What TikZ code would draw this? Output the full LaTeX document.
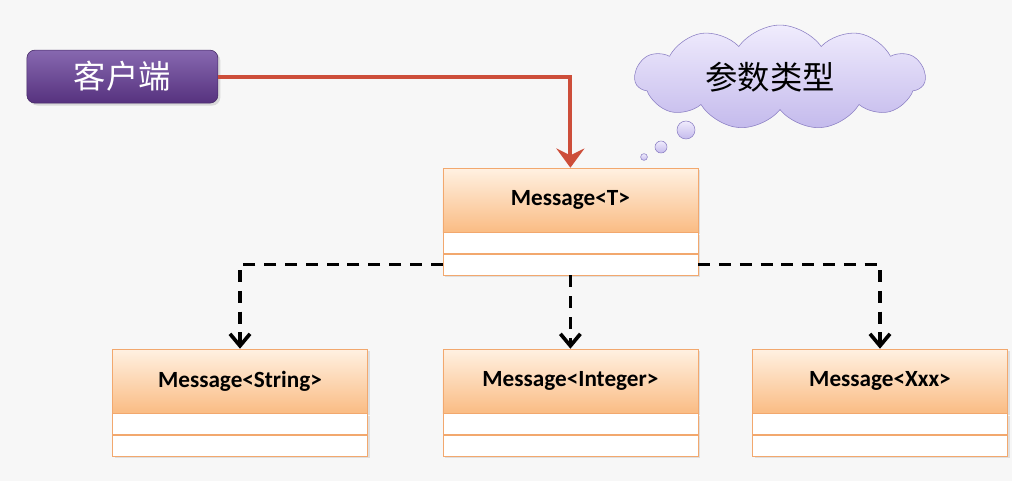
\documentclass[tikz,border=0pt]{standalone}
\usepackage{fontspec}
\setmainfont{Carlito}
\newfontfamily\cjk{Noto Sans CJK SC}
\usetikzlibrary{positioning,arrows.meta,shadows,shapes.symbols}
\definecolor{bg}{RGB}{247,247,247}
\definecolor{clienttop}{RGB}{135,104,176}
\definecolor{clientbot}{RGB}{86,50,126}
\definecolor{classtop}{RGB}{255,241,226}
\definecolor{classbot}{RGB}{250,188,132}
\definecolor{classline}{RGB}{242,168,110}
\definecolor{arrowred}{RGB}{205,78,58}
\definecolor{cloudtop}{RGB}{240,236,253}
\definecolor{cloudbot}{RGB}{196,186,236}
\definecolor{cloudline}{RGB}{140,128,196}
\tikzset{%
  client/.style={draw=clientbot!80!black, rounded corners=2mm, top color=clienttop,
    bottom color=clientbot, text=white, font=\cjk\fontsize{23}{26}\selectfont,
    minimum width=4.775cm, minimum height=1.325cm,
    drop shadow={opacity=0.25, shadow xshift=0.6mm, shadow yshift=-0.6mm}},% client box
  header/.style={draw=classline, top color=classtop, bottom color=classbot,
    minimum width=6.375cm, minimum height=1.6cm, inner sep=0pt,
    font=\fontsize{16.5}{18}\selectfont\bfseries,
    drop shadow={opacity=0.2, shadow xshift=0.5mm, shadow yshift=-0.5mm}},% class name
  field/.style={draw=classline, fill=white, minimum width=6.375cm,
    minimum height=0.525cm, inner sep=0pt,
    drop shadow={opacity=0.2, shadow xshift=0.5mm, shadow yshift=-0.5mm}},% empty compartment
  thought/.style={draw=cloudline, cloud, cloud puffs=11, cloud puff arc=110, aspect=3,
    top color=cloudtop, bottom color=cloudbot, minimum width=7.25cm,
    minimum height=2.375cm, font=\cjk\fontsize{23}{26}\selectfont},% thought cloud
  bubble/.style={draw=cloudline, circle, inner sep=0pt, top color=cloudtop,
    bottom color=cloudbot},% small cloud bubbles
  call/.style={arrowred, line width=2.8pt,
    -{Stealth[length=4.8mm, width=7mm, inset=1.7mm]}},% client -> class
  bind/.style={black, line width=2.6pt, dash pattern=on 3mm off 2.2mm,
    -{Straight Barb[length=3mm, width=5mm, line width=2.6pt]}}% binding of T
}
\newcommand*{\umlclass}[4]{% name, x, y, text
  \node[header] (#1) at (#2,#3) {#4};
  \node[field, below=0pt of #1] (#1-a) {};
  \node[field, below=0pt of #1-a] (#1-b) {};
}

\begin{document}
\begin{tikzpicture}
\fill[bg] (0,0) rectangle (25.3,12.025);
\useasboundingbox (0,0) rectangle (25.3,12.025);

\node[client] (client) at (3.06,10.11) {客户端};

\node[thought] (cloud) at (19.5,10.09) {参数类型\hspace*{5mm}};
\node[bubble, minimum size=4.5mm] (b1) at (17.15,8.775) {};
\node[bubble, minimum size=3mm] (b2) at (16.525,8.35) {};
\node[bubble, minimum size=1.7mm] (b3) at (16.1,8.1) {};

\umlclass{msgT}{14.26}{7.025}{Message<T>}
\umlclass{msgS}{6.0}{2.5}{Message<String>}
\umlclass{msgI}{14.26}{2.5}{Message<Integer>}
\umlclass{msgX}{22.0}{2.5}{Message<Xxx>}

\draw[call] (client.east) -| (msgT.north);

\draw[bind] (msgT-b.west) -| (msgS.north);
\draw[bind] (msgT-b.south) -- (msgI.north);
\draw[bind] (msgT-b.east) -| (msgX.north);
\end{tikzpicture}
\end{document}
